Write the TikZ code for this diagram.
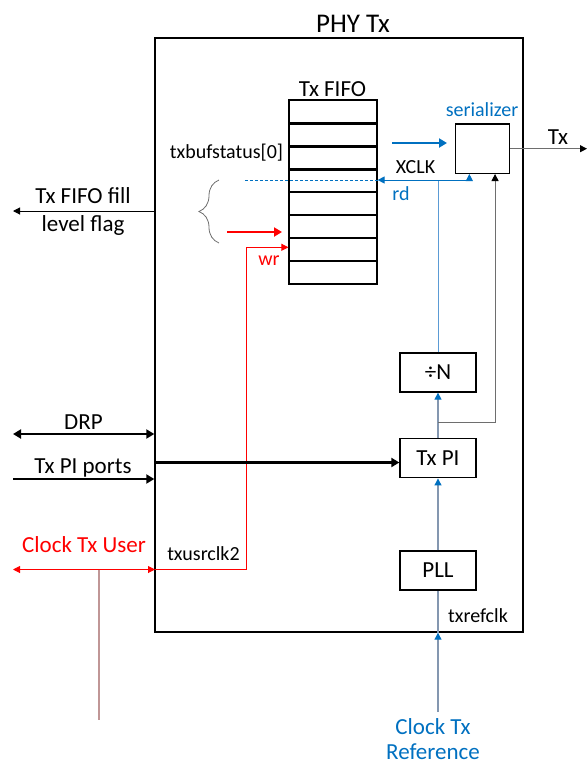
\documentclass[tikz,border=0pt]{standalone}
\usepackage{fontspec}
\setmainfont{Carlito}
\usetikzlibrary{arrows.meta, decorations.pathreplacing}

\definecolor{xblue}{RGB}{0,112,192}
\definecolor{xlblue}{RGB}{91,155,213}
\definecolor{xgblue}{RGB}{132,151,176}
\definecolor{xgrey}{RGB}{110,110,110}
\definecolor{xrose}{RGB}{192,150,150}
\definecolor{xred}{RGB}{255,0,0}

\tikzset{
  big/.style={font=\fontsize{23}{28}\selectfont},
  small/.style={font=\fontsize{20}{24}\selectfont},
  blk/.style={draw, line width=1.3pt, minimum width=76pt, minimum height=39pt, inner sep=0pt, big},
  cell/.style={draw, line width=1.2pt, minimum width=88pt, minimum height=23pt, inner sep=0pt},
  tip/.style={-{Triangle[length=7pt,width=7pt]}},
  bigtip/.style={-{Triangle[length=8pt,width=9pt]}},
}

\begin{document}
\begin{tikzpicture}[x=1pt, y=-1pt]
    \useasboundingbox (0,0) rectangle (587,764);
    % outer block
    \node[draw, line width=1.4pt, minimum width=368pt, minimum height=594pt, inner sep=0pt] (phy) at (339,335) {};
    \node[anchor=base, font=\fontsize{27}{30}\selectfont] (phytitle) at (353,32) {PHY Tx};

    % fifo
    \foreach \i in {0,...,7}
        \node[cell] (c\i) at (333,{111.5+23*\i}) {};
    \foreach \i in {0,1,2}
        \draw[line width=2pt] (c\i.south west) -- (c\i.south east);
    \node[big, anchor=base] (fifotitle) at (332.5,96.7) {Tx FIFO};

    % serializer and clock blocks
    \node[draw, line width=1.3pt, minimum width=53.6pt, minimum height=49.3pt, inner sep=0pt] (ser) at (482.5,148.7) {};
    \node[small, anchor=base, text=xblue] (serlabel) at (482,116) {serializer};
    \node[blk] (divn) at (438,372.5) {÷N};
    \node[blk] (txpi) at (438,458.3) {Tx PI};
    \node[blk] (pll) at (438,570.5) {PLL};

    \coordinate (refsrc) at (438,712);
    \coordinate (pisplit) at (438,422);
    \coordinate (xj) at (438,180);
    \coordinate (serclk) at ([xshift=14.3pt]ser.south west);
    \coordinate (serpi) at ([xshift=40pt]ser.south west);
    \coordinate (dashstart) at (245,180);
    \coordinate (rdsrc) at (392,143);
    \coordinate (rddst) at (447,143);
    \coordinate (txout) at (587,148.7);

    % reference clock path
    \draw[xgblue, line width=1.2pt, -{Triangle[length=7pt,width=7pt,color=xblue]}] (refsrc) -- (refsrc |- phy.south);
    \draw[xgblue, line width=1.2pt] (refsrc |- phy.south) -- (pll.south);
    \draw[xgblue, line width=1.2pt, -{Triangle[length=7pt,width=7pt,color=xblue]}] (pll.north) -- (txpi.south);
    \draw[xgblue, line width=1.2pt, -{Triangle[length=7pt,width=7pt,color=xblue]}] (txpi.north) -- (divn.south);
    \draw[xgrey, line width=1pt, -{Triangle[length=7pt,width=7pt,color=black]}] (pisplit) -| (serpi);
    \draw[xlblue, line width=1pt] (divn.north) -- (xj);
    \draw[xblue, line width=1pt, tip] (xj) -- (xj -| c3.east);
    \draw[xblue, line width=1pt, tip] (xj) -| (serclk);
    \draw[xblue, line width=0.8pt, dash pattern=on 3pt off 2pt] (dashstart) -- (xj -| c3.east);
    \draw[xblue, line width=2.5pt, bigtip] (rdsrc) -- (rddst);
    \draw[xgrey, line width=1pt, -{Triangle[length=7pt,width=7pt,color=black]}] (ser.east) -- (txout);

    \node[small, anchor=base] (xclk) at (415.5,173) {XCLK};
    \node[small, anchor=base, text=xblue] (rd) at (401,200) {rd};
    \node[small, anchor=base] (bufstat) at (226.5,158) {txbufstatus[0]};
    \node[big, anchor=base] (txlabel) at (558,144) {Tx};
    \node[small, anchor=base] (refclk) at (478,622) {txrefclk};
    \node[big, text=xblue, align=center, inner sep=0.5pt, font=\fontsize{23}{25}\selectfont] (clkref) at (433,739) {Clock Tx\\Reference};

    % fill level flag
    \coordinate (flagout) at (13,211);
    \draw[line width=1pt, tip] (phy.west |- flagout) -- (flagout);
    \node[big, align=center] (flaglabel) at (83,211) {Tx FIFO fill\\level flag};
    \draw[xgrey, line width=0.8pt, decorate, decoration={brace, amplitude=20pt}] (219,243) -- (219,180);

    % write side
    \coordinate (wrsrc) at (227,232);
    \coordinate (wrdst) at (282,232);
    \draw[xred, line width=2.5pt, bigtip] (wrsrc) -- (wrdst);
    \coordinate (usrpin) at (155,569.5);
    \coordinate (wrbend) at (246.7,247.3);
    \draw[xred, line width=1pt, tip] (usrpin) -| (wrbend) -- (wrbend -| c6.west);
    \node[small, anchor=base, text=xred] (wr) at (269,265) {wr};

    % ports
    \coordinate (drpout) at (13,434);
    \draw[line width=2.2pt, {Triangle[length=8pt,width=9pt]}-{Triangle[length=8pt,width=9pt]}] (drpout) -- (drpout -| phy.west);
    \node[big, anchor=base] (drp) at (83.5,429) {DRP};
    \coordinate (piin) at (13,479);
    \draw[line width=2.2pt, bigtip] (piin) -- (piin -| phy.west);
    \node[big, anchor=base] (piports) at (83,473) {Tx PI ports};
    \coordinate (piport) at (155,462.5);
    \draw[line width=2.2pt, bigtip] (piport) -- (piport -| txpi.west);

    % user clock
    \coordinate (usrout) at (13,569.5);
    \draw[xred, line width=1pt, {Triangle[length=7pt,width=7pt]}-{Triangle[length=7pt,width=7pt]}] (usrout) -- (usrpin);
    \node[big, anchor=base, text=xred] (usrlabel) at (84,552) {Clock Tx User};
    \node[small, anchor=base] (usrclk) at (203.5,560) {txusrclk2};
    \coordinate (usrtap) at (99,569.5);
    \coordinate (usrsrc) at (99,720);
    \draw[xrose, line width=1.2pt] (usrtap) -- (usrsrc);
\end{tikzpicture}
\end{document}
